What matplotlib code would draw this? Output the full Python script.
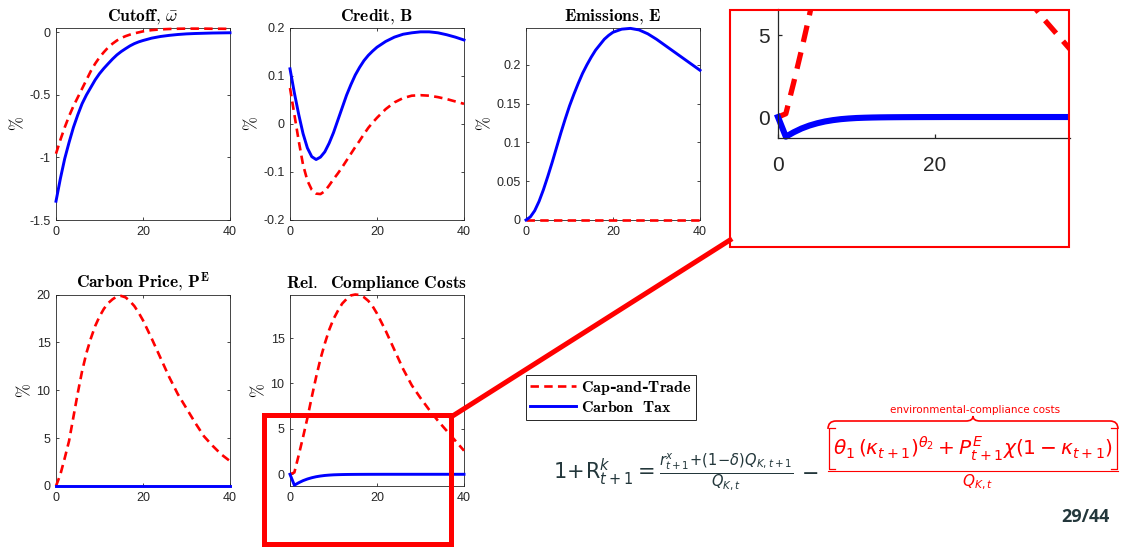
import matplotlib
matplotlib.use('Agg')
from matplotlib import pyplot as plt
from matplotlib.font_manager import FontProperties
from matplotlib.lines import Line2D
from matplotlib.patches import PathPatch, Rectangle
from matplotlib.path import Path
from matplotlib.ticker import FuncFormatter

W, H = 1121, 547

# quarters after the shock
quarters = [0, 1, 2, 3, 4, 5, 6, 7, 8, 9, 10, 11, 12, 13, 14, 15, 16, 17, 18, 19, 20,
            22, 24, 26, 28, 30, 32, 34, 36, 38, 40]

# impulse responses, % deviation from steady state
cutoff_cat = [-0.97, -0.86, -0.76, -0.67, -0.59, -0.52, -0.45, -0.38, -0.31, -0.25, -0.20,
              -0.158, -0.12, -0.09, -0.065, -0.045, -0.03, -0.018, -0.008, 0.0, 0.008,
              0.018, 0.024, 0.027, 0.029, 0.03, 0.03, 0.03, 0.029, 0.029, 0.028]
cutoff_tax = [-1.35, -1.17, -1.01, -0.88, -0.76, -0.66, -0.57, -0.50, -0.44, -0.38, -0.33,
              -0.288, -0.25, -0.213, -0.18, -0.153, -0.13, -0.108, -0.09, -0.076, -0.065,
              -0.046, -0.033, -0.024, -0.017, -0.012, -0.009, -0.007, -0.005, -0.004, -0.003]

credit_cat = [0.075, 0.02, -0.035, -0.085, -0.118, -0.137, -0.145, -0.146, -0.14, -0.128, -0.115,
              -0.103, -0.09, -0.076, -0.062, -0.048, -0.035, -0.021, -0.008, 0.003, 0.013,
              0.031, 0.045, 0.054, 0.059, 0.06, 0.059, 0.056, 0.052, 0.047, 0.042]
credit_tax = [0.115, 0.065, 0.02, -0.02, -0.05, -0.068, -0.074, -0.069, -0.058, -0.04, -0.018,
              0.008, 0.034, 0.06, 0.082, 0.102, 0.118, 0.132, 0.143, 0.152, 0.16,
              0.172, 0.181, 0.187, 0.19, 0.192, 0.192, 0.19, 0.186, 0.181, 0.175]

emissions_cat = [0.0] * len(quarters)
emissions_tax = [0.0, 0.004, 0.012, 0.024, 0.039, 0.056, 0.074, 0.093, 0.112, 0.13, 0.147,
                 0.162, 0.176, 0.189, 0.2, 0.21, 0.219, 0.226, 0.233, 0.238, 0.242,
                 0.246, 0.247, 0.245, 0.24, 0.233, 0.225, 0.217, 0.209, 0.201, 0.193]

price_cat = [0.0, 1.2, 2.9, 4.7, 7.2, 9.7, 12.0, 13.9, 15.4, 16.7, 17.7,
             18.5, 19.1, 19.5, 19.8, 19.85, 19.7, 19.3, 18.8, 18.1, 17.3,
             15.4, 13.4, 11.4, 9.6, 8.1, 6.6, 5.2, 4.2, 3.3, 2.6]
price_tax = [0.0] * len(quarters)

compliance_cat = [0.0, 0.2, 2.1, 4.1, 6.2, 8.5, 10.7, 12.7, 14.4, 15.9, 17.1,
                  18.0, 18.8, 19.3, 19.7, 19.8, 19.75, 19.5, 19.1, 18.5, 17.7,
                  15.8, 13.7, 11.6, 9.8, 8.4, 7.1, 5.9, 4.8, 3.7, 2.6]
compliance_tax = [0.0, -1.2, -0.93, -0.70, -0.52, -0.38, -0.27, -0.19, -0.13, -0.09, -0.06,
                  -0.043, -0.03, -0.021, -0.015, -0.011, -0.008, -0.006, -0.004, -0.003, -0.002,
                  0.0, 0.0, 0.0, 0.0, 0.0, 0.0, 0.0, 0.0, 0.0, 0.0]

RED = '#ff0000'
BLUE = '#0000ff'
AXIS_GREY = '#262626'
SLIDE_TEXT = '#23373b'

plt.rcParams['font.family'] = ['Liberation Sans', 'DejaVu Sans']
plt.rcParams['mathtext.fontset'] = 'cm'
plt.rcParams['axes.unicode_minus'] = False


def fx(x):
    return x / W


def fy(y):
    return 1 - y / H


def px_axes(fig, left, top, right, bottom):
    return fig.add_axes([fx(left), fy(bottom), (right - left) / W, (bottom - top) / H])


def fig_line(fig, xs, ys, **kw):
    fig.add_artist(Line2D([fx(x) for x in xs], [fy(y) for y in ys],
                          transform=fig.transFigure, **kw))


def draw_pair(ax, cat, tax, scale=1.0):
    ax.plot(quarters, cat, color=RED, lw=1.9 * scale, dashes=(3.2, 2.0), clip_on=False, zorder=3)
    ax.plot(quarters, tax, color=BLUE, lw=2.1 * scale, clip_on=False, zorder=3)


def style_panel(ax, title, ylim, yticks):
    ax.set_xticks([0, 20, 40])
    ax.set_yticks(yticks)
    ax.set_xlim(0, 40)
    ax.set_ylim(*ylim)
    ax.yaxis.set_major_formatter(FuncFormatter(lambda v, _: f'{v:g}'))
    ax.tick_params(direction='in', top=True, right=True, length=2.5, width=0.6,
                   colors=AXIS_GREY, labelsize=9, pad=4)
    for spine in ax.spines.values():
        spine.set_color(AXIS_GREY)
        spine.set_linewidth(0.6)
    ax.set_title(title, fontsize=12.5, pad=5)
    ax.set_ylabel(r'$\%$', fontsize=12, labelpad=2)


fig = plt.figure(figsize=(W / 100, H / 100), dpi=100)

panels = [
    ((56, 28, 230, 220), cutoff_cat, cutoff_tax, r'$\mathbf{Cutoff,}\,\bar{\omega}$',
     (-1.5, 0.035), [-1.5, -1, -0.5, 0]),
    ((290, 28, 464, 220), credit_cat, credit_tax, r'$\mathbf{Credit,\,B}$',
     (-0.2, 0.2), [-0.2, -0.1, 0, 0.1, 0.2]),
    ((526, 28, 700, 220), emissions_cat, emissions_tax, r'$\mathbf{Emissions,\,E}$',
     (0, 0.2475), [0, 0.05, 0.1, 0.15, 0.2]),
    ((56, 294.5, 230, 486), price_cat, price_tax, r'$\mathbf{Carbon\ Price,\,P^{E}}$',
     (0, 20), [0, 5, 10, 15, 20]),
    ((290, 294.5, 464, 486), compliance_cat, compliance_tax,
     r'$\mathbf{Rel.\ \ Compliance\ Costs}$', (-1.29, 19.8), [0, 5, 10, 15]),
]

for box, cat, tax, title, ylim, yticks in panels:
    ax = px_axes(fig, *box)
    draw_pair(ax, cat, tax)
    style_panel(ax, title, ylim, yticks)

# magnified view of the start of the compliance-cost responses
x_view = (-6.24, 37.2)
y_view = (-7.99, 6.59)
inset = px_axes(fig, 729, 9, 1070, 248)
inset.plot(quarters, compliance_cat, color=RED, lw=3.8, dashes=(3.2, 2.0))
inset.plot(quarters, compliance_tax, color=BLUE, lw=4.4)
inset.set_xticks([0, 20, 40])
inset.set_yticks([0, 5, 10, 15])
inset.set_xlim(*x_view)
inset.set_ylim(*y_view)
inset.spines['top'].set_visible(False)
inset.spines['right'].set_visible(False)
inset.spines['left'].set_position(('data', 0))
inset.spines['left'].set_bounds(-1.29, y_view[1])
inset.spines['bottom'].set_position(('data', -1.29))
inset.spines['bottom'].set_bounds(0, x_view[1])
for side in ('left', 'bottom'):
    inset.spines[side].set_color(AXIS_GREY)
    inset.spines[side].set_linewidth(0.9)
inset.tick_params(direction='in', length=3, width=0.9, colors=AXIS_GREY, labelsize=15)
inset.tick_params(axis='x', pad=13)
inset.tick_params(axis='y', pad=6)

fig.add_artist(Rectangle((fx(730), fy(247)), 339 / W, 237 / H, transform=fig.transFigure,
                         fill=False, ec=RED, lw=1.5, zorder=6))
fig.add_artist(Rectangle((fx(264.2), fy(543.5)), 186.6 / W, 128.3 / H, transform=fig.transFigure,
                         fill=False, ec=RED, lw=3.6, zorder=6))
fig_line(fig, [451, 730], [417, 240], color=RED, lw=3.6, zorder=6)

handles = [Line2D([], [], color=RED, lw=1.9, dashes=(3.2, 2.0)),
           Line2D([], [], color=BLUE, lw=2.1)]
labels = [r'$\mathbf{Cap}$-$\mathbf{and}$-$\mathbf{Trade}$', r'$\mathbf{Carbon\ \ Tax}$']
leg = fig.legend(handles, labels, loc='upper left', bbox_to_anchor=(fx(526), fy(375)),
                 borderaxespad=0, fancybox=False, framealpha=1, handlelength=2.9,
                 handletextpad=0.3, labelspacing=0.12, borderpad=0.25,
                 prop=FontProperties(family='DejaVu Serif', weight='bold', size=11.5))
leg.get_frame().set_edgecolor(AXIS_GREY)
leg.get_frame().set_linewidth(0.7)

# return on capital net of compliance costs
fig.text(fx(553), fy(472),
         r'$1\!+\!\mathrm{R}^{k}_{t+1} = \frac{r^{x}_{t+1}\!+\!(1\!-\!\delta)Q_{K,t+1}}{Q_{K,t}}$',
         fontsize=15, color=SLIDE_TEXT, ha='left', va='center', math_fontfamily='dejavusans')
fig.text(fx(810), fy(473), r'$-$', fontsize=15, color=SLIDE_TEXT, ha='center', va='center',
         math_fontfamily='dejavusans')
fig.text(fx(973), fy(449),
         r'$\theta_1\,(\kappa_{t+1})^{\theta_2} + P^{E}_{t+1}\chi(1 - \kappa_{t+1})$',
         fontsize=14.5, color=RED, ha='center', va='center', math_fontfamily='dejavusans')
# square brackets around the compliance-cost numerator
fig_line(fig, [835, 829, 829, 835], [428, 428, 469, 469], color=RED, lw=0.9)
fig_line(fig, [1111, 1117, 1117, 1111], [428, 428, 469, 469], color=RED, lw=0.9)
fig_line(fig, [828, 1118], [471, 471], color=RED, lw=0.8)
fig.text(fx(977), fy(482), r'$Q_{K,t}$', fontsize=11, color=RED, ha='center', va='center',
         math_fontfamily='dejavusans')

brace = Path([(828, 429), (828, 421), (836, 421), (966, 421), (973, 421), (973, 416),
              (973, 421), (980, 421), (1110, 421), (1118, 421), (1118, 429)],
             [Path.MOVETO, Path.CURVE3, Path.CURVE3, Path.LINETO, Path.CURVE3, Path.CURVE3,
              Path.CURVE3, Path.CURVE3, Path.LINETO, Path.CURVE3, Path.CURVE3])
brace = Path([(fx(x), fy(y)) for x, y in brace.vertices], brace.codes)
fig.add_artist(PathPatch(brace, transform=fig.transFigure, fill=False, ec=RED, lw=1.2))
fig.text(fx(975), fy(410), 'environmental-compliance costs', fontsize=7.5, color=RED,
         ha='center', va='center', family='DejaVu Sans')

fig.text(fx(1110), fy(517), '29/44', fontsize=13, fontweight='bold', color=SLIDE_TEXT,
         ha='right', va='center', family='Open Sans')

fig.savefig('out.png', dpi=100)
